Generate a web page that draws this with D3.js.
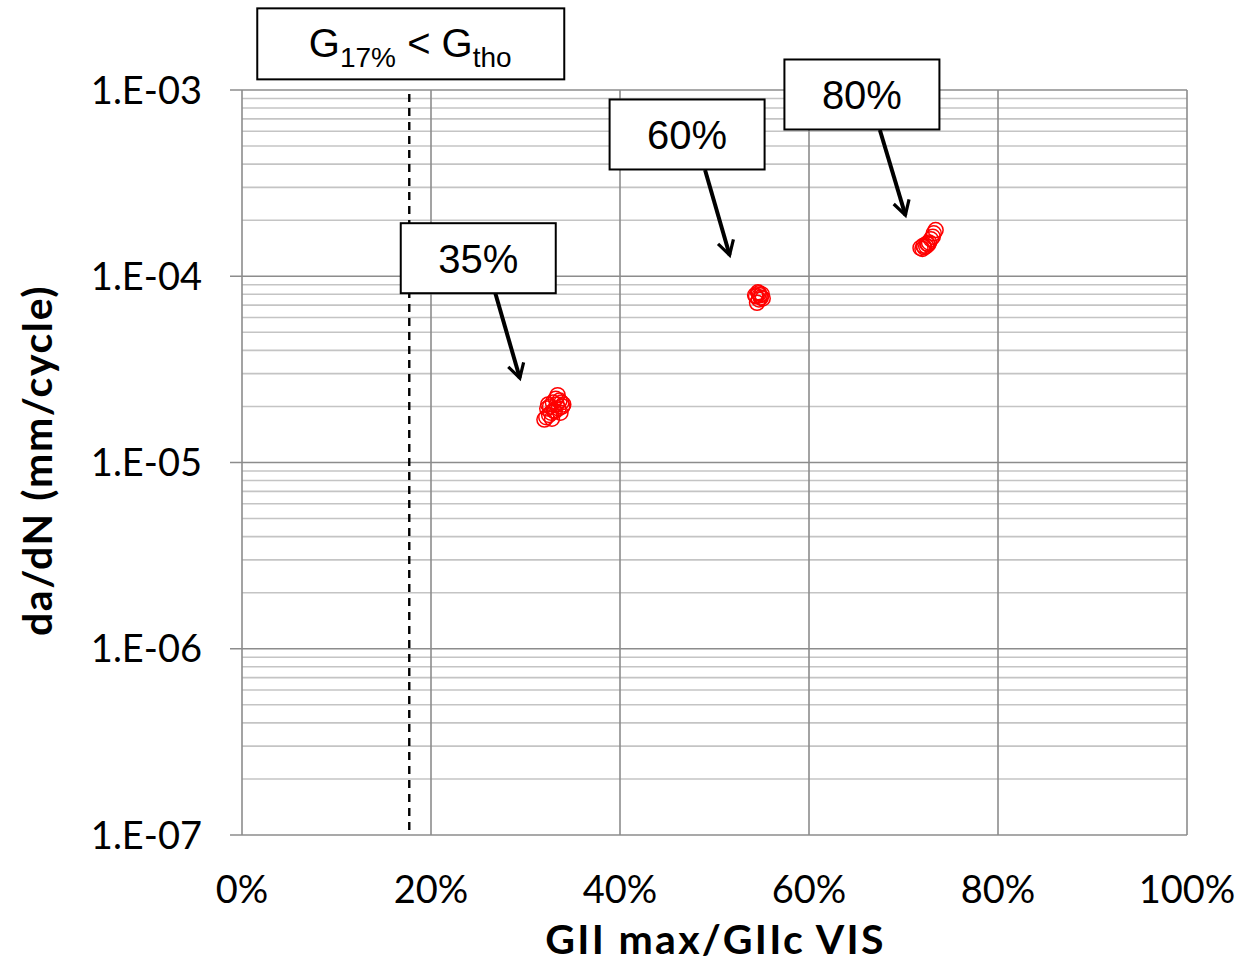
<!DOCTYPE html>
<html>
<head>
<meta charset="utf-8">
<script src="https://cdn.jsdelivr.net/npm/d3@7"></script>
<style>
  body { margin: 0; background: #fff; }
  .tick-lab { font-family: Lato, "Open Sans", sans-serif; font-size: 38px; fill: #000; }
  .axis-title { font-family: Lato, "Open Sans", sans-serif; font-size: 41px; font-weight: bold; fill: #000; letter-spacing: 1.6px; }
  .box-text { font-family: "Liberation Sans", Arial, sans-serif; font-size: 40px; fill: #000; }
</style>
</head>
<body>
<div id="wrapper"></div>
<script>
// Data: three load levels, da/dN vs GIImax/GIIc
var pts35 = [
  [0.320, 1.70e-5], [0.322, 1.75e-5], [0.325, 1.80e-5], [0.328, 1.72e-5],
  [0.323, 1.95e-5], [0.326, 2.00e-5], [0.330, 1.90e-5], [0.333, 2.05e-5],
  [0.335, 1.95e-5], [0.338, 2.10e-5], [0.332, 2.20e-5], [0.334, 2.30e-5],
  [0.336, 2.15e-5], [0.340, 2.05e-5], [0.329, 2.10e-5], [0.327, 1.85e-5],
  [0.331, 1.88e-5], [0.337, 1.85e-5], [0.339, 2.00e-5], [0.324, 2.05e-5]
];
var pts60 = [
  [0.545, 7.2e-5], [0.547, 7.5e-5], [0.544, 7.8e-5], [0.548, 7.9e-5],
  [0.550, 8.0e-5], [0.546, 8.2e-5], [0.549, 7.7e-5], [0.551, 7.6e-5],
  [0.543, 7.9e-5], [0.547, 8.1e-5]
];
var pts80 = [
  [0.718, 1.42e-4], [0.720, 1.40e-4], [0.722, 1.43e-4], [0.724, 1.45e-4],
  [0.721, 1.46e-4], [0.725, 1.50e-4], [0.727, 1.52e-4], [0.729, 1.58e-4],
  [0.731, 1.63e-4], [0.732, 1.70e-4], [0.734, 1.77e-4], [0.726, 1.48e-4]
];
var xTicks = [0, 0.2, 0.4, 0.6, 0.8, 1.0];
var yTicks = [1e-7, 1e-6, 1e-5, 1e-4, 1e-3];
var yTickLabels = ["1.E-07", "1.E-06", "1.E-05", "1.E-04", "1.E-03"];
var thresholdX = 0.177;

// Annotations: label, box centre, arrow start, arrow end (data coords)
var notes = [
  { text: "35%", cx: 0.250, cy: 1.25e-4, x1: 0.268, y1: 8.13e-5, x2: 0.294, y2: 2.84e-5 },
  { text: "60%", cx: 0.471, cy: 5.77e-4, x1: 0.490, y1: 3.72e-4, x2: 0.516, y2: 1.30e-4 },
  { text: "80%", cx: 0.656, cy: 9.46e-4, x1: 0.675, y1: 6.10e-4, x2: 0.702, y2: 2.13e-4 }
];

var W = 1242, H = 965;
var margin = { left: 242, right: 55, top: 90, bottom: 130 };
var width = W - margin.left - margin.right;
var height = H - margin.top - margin.bottom;

var svg = d3.select("#wrapper").append("svg")
    .attr("width", W).attr("height", H);

var defs = svg.append("defs");
defs.append("marker")
    .attr("id", "arrow")
    .attr("viewBox", "0 0 10 10")
    .attr("refX", 8).attr("refY", 5)
    .attr("markerWidth", 5).attr("markerHeight", 5)
    .attr("markerUnits", "strokeWidth")
    .attr("orient", "auto")
    .append("path")
    .attr("d", "M1,1 L8,5 L1,9")
    .attr("fill", "none")
    .attr("stroke", "#000")
    .attr("stroke-width", 1.6);

var g = svg.append("g")
    .attr("transform", "translate(" + margin.left + "," + margin.top + ")");

var x = d3.scaleLinear().domain([0, 1]).range([0, width]);
var y = d3.scaleLog().domain([1e-7, 1e-3]).range([height, 0]);

// minor horizontal grid
var minor = [];
for (var e = -7; e < -3; e++) {
  for (var m = 2; m <= 9; m++) minor.push(m * Math.pow(10, e));
}
g.selectAll(".minor").data(minor).enter().append("line")
    .attr("x1", 0).attr("x2", width)
    .attr("y1", function(d) { return y(d); })
    .attr("y2", function(d) { return y(d); })
    .attr("stroke", "#c4c4c4").attr("stroke-width", 1.6);

// major horizontal grid with ticks
g.selectAll(".major").data(yTicks).enter().append("line")
    .attr("x1", -12).attr("x2", width)
    .attr("y1", function(d) { return y(d); })
    .attr("y2", function(d) { return y(d); })
    .attr("stroke", "#8c8c8c").attr("stroke-width", 1.6);

// vertical grid
g.selectAll(".vgrid").data(xTicks).enter().append("line")
    .attr("x1", function(d) { return x(d); })
    .attr("x2", function(d) { return x(d); })
    .attr("y1", 0).attr("y2", height)
    .attr("stroke", "#8c8c8c").attr("stroke-width", 1.6);

// threshold line
g.append("line")
    .attr("x1", x(thresholdX)).attr("x2", x(thresholdX))
    .attr("y1", 4).attr("y2", height)
    .attr("stroke", "#000").attr("stroke-width", 2.4)
    .attr("stroke-dasharray", "8,6");

// tick labels
g.selectAll(".ylab").data(yTicks).enter().append("text")
    .attr("class", "tick-lab")
    .attr("x", -40)
    .attr("y", function(d) { return y(d); })
    .attr("dy", "0.36em")
    .attr("text-anchor", "end")
    .text(function(d, i) { return yTickLabels[i]; });

g.selectAll(".xlab").data(xTicks).enter().append("text")
    .attr("class", "tick-lab")
    .attr("x", function(d) { return x(d); })
    .attr("y", height + 68)
    .attr("text-anchor", "middle")
    .text(d3.format(".0%"));

// axis titles
g.append("text")
    .attr("class", "axis-title")
    .attr("x", width / 2 + 1)
    .attr("y", height + 119)
    .attr("text-anchor", "middle")
    .style("letter-spacing", "2.3px")
    .text("GII max/GIIc VIS");

g.append("text")
    .attr("class", "axis-title")
    .attr("transform", "translate(" + (-190) + "," + (height / 2 - 2) + ") rotate(-90)")
    .attr("text-anchor", "middle")
    .text("da/dN (mm/cycle)");

// points
var allPts = pts35.concat(pts60, pts80);
g.selectAll(".pt").data(allPts).enter().append("circle")
    .attr("cx", function(d) { return x(d[0]); })
    .attr("cy", function(d) { return y(d[1]); })
    .attr("r", 7.5)
    .attr("fill", "none")
    .attr("stroke", "#ff0000")
    .attr("stroke-width", 1.5);

// annotation boxes and arrows
var bw = 155, bh = 70;
var ann = g.selectAll(".note").data(notes).enter().append("g");
ann.append("line")
    .attr("x1", function(d) { return x(d.x1); })
    .attr("y1", function(d) { return y(d.y1); })
    .attr("x2", function(d) { return x(d.x2); })
    .attr("y2", function(d) { return y(d.y2); })
    .attr("stroke", "#000").attr("stroke-width", 4)
    .attr("marker-end", "url(#arrow)");
ann.append("rect")
    .attr("x", function(d) { return x(d.cx) - bw / 2; })
    .attr("y", function(d) { return y(d.cy) - bh / 2; })
    .attr("width", bw).attr("height", bh)
    .attr("fill", "#fff").attr("stroke", "#000").attr("stroke-width", 2);
ann.append("text")
    .attr("class", "box-text")
    .attr("x", function(d) { return x(d.cx); })
    .attr("y", function(d) { return y(d.cy); })
    .attr("dy", "0.36em")
    .attr("text-anchor", "middle")
    .text(function(d) { return d.text; });

// threshold label box
var tcx = x(thresholdX) + 1, tcy = y(1.78e-3);
g.append("rect")
    .attr("x", tcx - 153).attr("y", tcy - 35)
    .attr("width", 307).attr("height", 71)
    .attr("fill", "#fff").attr("stroke", "#000").attr("stroke-width", 2);
var tt = g.append("text")
    .attr("class", "box-text")
    .attr("x", tcx).attr("y", tcy + 14)
    .attr("font-size", "43px")
    .attr("text-anchor", "middle");
tt.append("tspan").text("G");
tt.append("tspan").attr("font-size", "28px").attr("dy", 10).text("17%");
tt.append("tspan").attr("dy", -10).text(" < G");
tt.append("tspan").attr("font-size", "28px").attr("dy", 10).text("tho");
</script>
</body>
</html>
